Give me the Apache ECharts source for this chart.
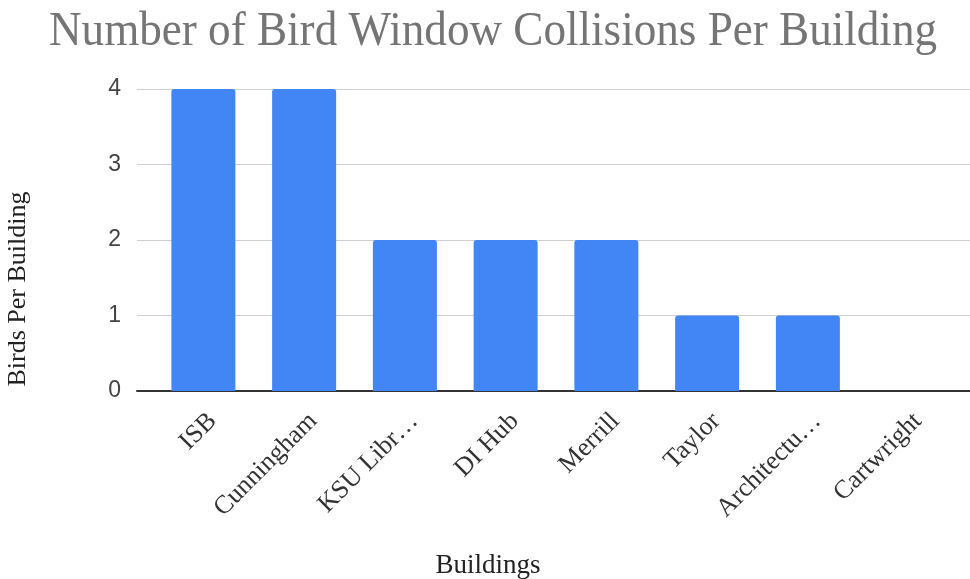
<!DOCTYPE html>
<html><head><meta charset="utf-8">
<script src="https://cdn.jsdelivr.net/npm/echarts@6/dist/echarts.min.js"></script>
<style>html,body{margin:0;padding:0;background:#fff}#c{width:970px;height:579px}</style>
</head><body><div id="c"></div>
<script>
const categories = ["ISB","Cunningham","KSU Libr\u2026","DI Hub","Merrill","Taylor","Architectu\u2026","Cartwright"];
const birds = [4,4,2,2,2,1,1,0];
const yTicks = [0,1,2,3,4];

const chart = echarts.init(document.getElementById('c'));
const serif = '"Liberation Serif","Times New Roman",serif';
const gTop = 89, gH = 302;
chart.setOption({
  animation:false,
  grid:[
    {left:153,width:806,top:gTop,height:gH},
    {left:137,right:0,top:gTop,height:gH}
  ],
  xAxis:[
    {type:'category',gridIndex:0,data:categories,axisLine:{show:false},axisTick:{show:false},
     axisLabel:{rotate:45,interval:0,margin:17,verticalAlign:'top',fontFamily:serif,fontSize:26,color:'#333'}},
    {type:'value',gridIndex:1,min:0,max:1,axisLabel:{show:false},axisTick:{show:false},splitLine:{show:false},
     axisLine:{show:true,lineStyle:{color:'#333',width:2}}}
  ],
  yAxis:[
    {type:'value',gridIndex:0,min:0,max:4,show:false,splitLine:{show:false}},
    {type:'value',gridIndex:1,min:yTicks[0],max:yTicks[yTicks.length-1],interval:1,
     axisLine:{show:false},axisTick:{show:false},
     axisLabel:{margin:16,fontFamily:'"Liberation Sans",Arial,sans-serif',fontSize:23,color:'#444'},
     splitLine:{lineStyle:{color:'#cfcfcf',width:1}}}
  ],
  series:[{type:'bar',xAxisIndex:0,yAxisIndex:0,data:birds,barWidth:64,
    itemStyle:{color:'#4285F4',borderRadius:[3,3,0,0]},z:3}],
  graphic:[
    {type:'text',position:[493,56],scaleX:0.94,
     style:{text:'Number of Bird Window Collisions Per Building',font:'48px '+serif,fill:'#757575',textAlign:'center',textVerticalAlign:'bottom'}},
    {type:'text',position:[488,552],style:{text:'Buildings',font:'27px '+serif,fill:'#222',textAlign:'center'}},
    {type:'text',rotation:Math.PI/2,position:[18,289],
     style:{text:'Birds Per Building',font:'26px '+serif,fill:'#222',textAlign:'center',textVerticalAlign:'middle'}}
  ]
});
</script></body></html>
